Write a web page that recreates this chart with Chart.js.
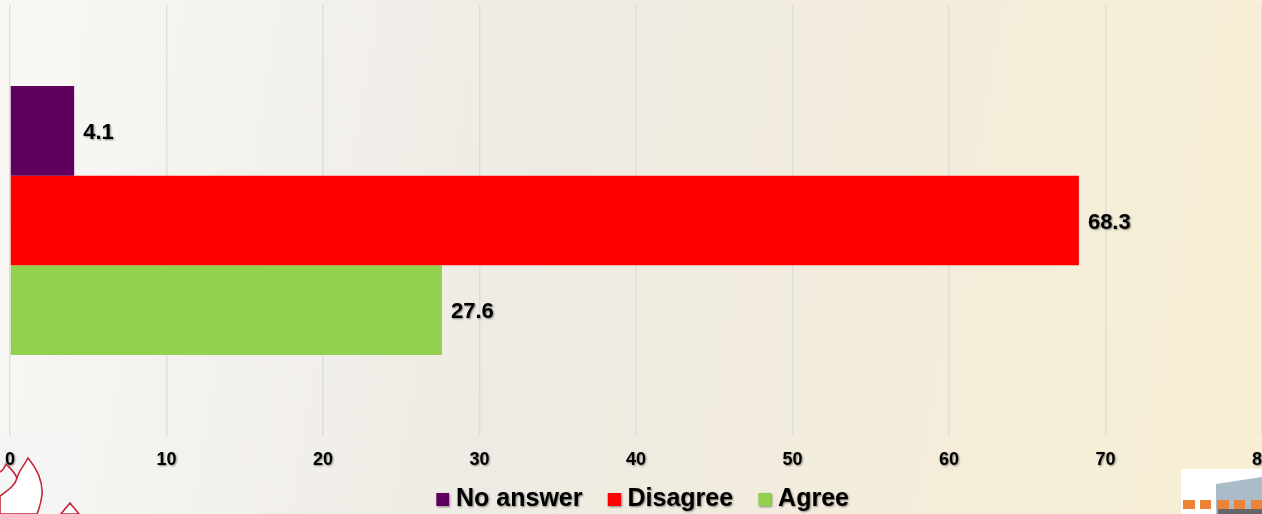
<!DOCTYPE html>
<html>
<head>
<meta charset="utf-8">
<script src="https://cdn.jsdelivr.net/npm/chart.js@4"></script>
<style>
html,body{margin:0;padding:0;width:1262px;height:514px;overflow:hidden}
body{position:relative;background:linear-gradient(100deg,#f9f8f5 0%,#f3f1ec 22%,#eeebe4 42%,#f2ecdd 65%,#f5eed8 85%,#f8eed3 100%)}
#wrap{position:absolute;left:0;top:0;width:1280px;height:522px}
canvas{display:block}
svg{position:absolute;left:0;top:0}
</style>
</head>
<body>
<svg width="1262" height="514">
  <rect x="0" y="432" width="77" height="82" fill="#f5f5f5"/>
  <path d="M28 458C38 470 43 482 42 495C41 503 39 509 37 514L0 514L0 496C8 490 15 486 17 478C19 470 24 466 28 458Z" fill="#fff" stroke="#c0283c" stroke-width="1.6"/>
  <path d="M0 472C4 470 5 466 6 464C11 469 16 473 17 479" fill="none" stroke="#c0283c" stroke-width="1.6"/>
  <path d="M70 503C66 508 63 511 61 514L79 514C76 510 73 507 70 503Z" fill="#fff" stroke="#c0283c" stroke-width="1.6"/>
  <rect x="1181" y="469" width="81" height="45" fill="#fff"/>
  <polygon points="1216,484 1262,477 1262,514 1216,514" fill="#a9bcc8"/>
  <rect x="1218" y="509" width="44" height="5" fill="#666"/>
  <g fill="#ec8336">
    <rect x="1183" y="500" width="12" height="9"/>
    <rect x="1200" y="500" width="11" height="9"/>
    <rect x="1217" y="500" width="12" height="9"/>
    <rect x="1234" y="500" width="11" height="9"/>
    <rect x="1251" y="500" width="11" height="9"/>
  </g>
</svg>
<div id="wrap"><canvas id="c" width="1280" height="522"></canvas></div>
<script>
const categories = [""];
const seriesNames = ["No answer", "Disagree", "Agree"];
const seriesValues = [[4.1], [68.3], [27.6]];
const seriesColors = ["#5f005f", "#ff0000", "#92d050"];
const axisTicks = [0, 10, 20, 30, 40, 50, 60, 70, 80];

const FONT = '"Liberation Sans", Arial, sans-serif';

function swatch(color) {
  const s = document.createElement("canvas");
  s.width = 36; s.height = 13;
  const x = s.getContext("2d");
  x.fillStyle = color;
  x.fillRect(23, 0, 13, 13);
  return s;
}
function shadow(ctx) {
  ctx.shadowColor = "rgba(0,0,0,0.45)";
  ctx.shadowBlur = 2;
  ctx.shadowOffsetX = 1;
  ctx.shadowOffsetY = 1;
}
const deco = {
  id: "deco",
  beforeDraw(chart) {
    if (chart.legend && !chart.legend._wrapped) {
      const orig = chart.legend.draw;
      chart.legend.draw = function () {
        const ctx = chart.ctx;
        ctx.save(); shadow(ctx);
        ctx.translate(-2, 0);
        orig.call(this);
        ctx.restore();
      };
      chart.legend._wrapped = true;
    }
  },
  afterDatasetsDraw(chart) {
    const ctx = chart.ctx;
    shadow(ctx);
    ctx.fillStyle = "#000";
    ctx.font = "bold 22px " + FONT;
    ctx.textAlign = "left";
    ctx.textBaseline = "middle";
    chart.data.datasets.forEach((d, i) => {
      const el = chart.getDatasetMeta(i).data[0];
      ctx.fillText(String(d.data[0]), el.x + 9, el.y + 2);
    });
  },
  afterDraw(chart) {
    const ctx = chart.ctx;
    ctx.shadowColor = "transparent";
    ctx.shadowBlur = 0; ctx.shadowOffsetX = 0; ctx.shadowOffsetY = 0;
  }
};

new Chart(document.getElementById("c"), {
  type: "bar",
  data: {
    labels: categories,
    datasets: seriesNames.map((n, i) => ({
      label: n,
      data: seriesValues[i],
      backgroundColor: seriesColors[i],
      pointStyle: swatch(seriesColors[i]),
      barPercentage: 1,
      categoryPercentage: 0.624
    }))
  },
  options: {
    indexAxis: "y",
    responsive: false,
    animation: false,
    layout: { padding: { left: 10, right: 18, top: 5, bottom: 0 } },
    plugins: {
      tooltip: { enabled: false },
      legend: {
        position: "bottom",
        labels: {
          usePointStyle: true,
          pointStyleWidth: 24.5,
          boxHeight: 13,
          padding: 8,
          color: "#000",
          font: { family: FONT, size: 25, weight: "bold" }
        }
      }
    },
    scales: {
      y: { display: false },
      x: {
        min: axisTicks[0],
        max: axisTicks[axisTicks.length - 1],
        afterBuildTicks(scale) { scale.ticks = axisTicks.map(v => ({ value: v })); },
        afterFit(scale) { scale.height = 43; },
        border: { display: false },
        grid: { color: "#dfdfda", lineWidth: 1.5, drawTicks: true, tickLength: 13, tickColor: "rgba(0,0,0,0)" },
        ticks: {
          z: 1,
          maxRotation: 0,
          autoSkip: false,
          padding: 0,
          color: "#000",
          font: { family: FONT, size: 18, weight: "bold" }
        }
      }
    }
  },
  plugins: [deco]
});
</script>
</body>
</html>
